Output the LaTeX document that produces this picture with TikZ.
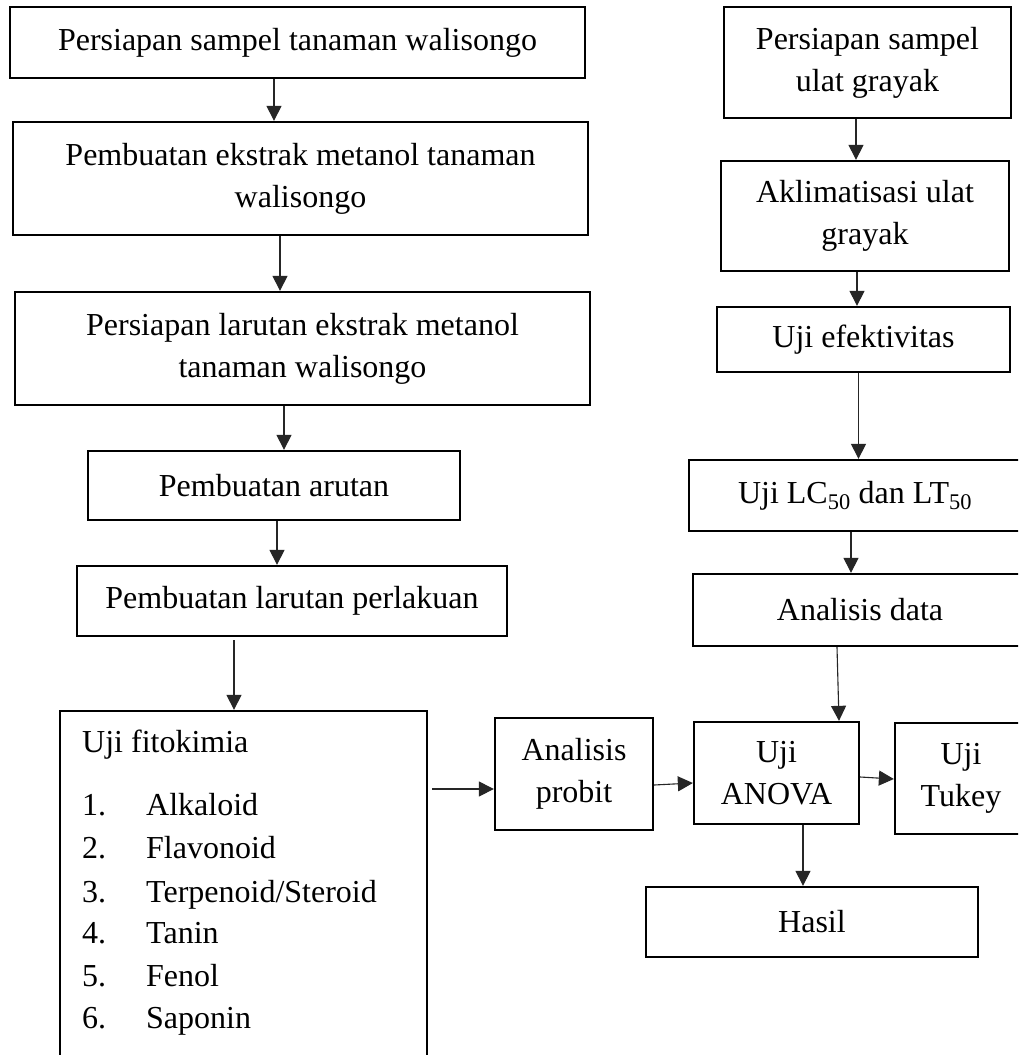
\documentclass[tikz,border=0pt]{standalone}
\usepackage{fontspec}
\setmainfont{Liberation Serif}
\usetikzlibrary{arrows.meta}
\begin{document}
\begin{tikzpicture}[x=1pt,y=-1pt,
  box/.style={draw=black, line width=2.3pt, inner sep=0pt, align=center,
    font=\fontsize{32}{42}\selectfont},
  arr/.style={draw=black!85, line width=1.1pt, -{Triangle[length=15pt,width=15pt]}},
  txt/.style={inner sep=0pt, anchor=base west, font=\fontsize{32}{42}\selectfont}]
\useasboundingbox (0,0) rectangle (1018,1055);
\fill[white] (0,0) rectangle (1018,1055);
\clip (0,0) rectangle (1018,1055);

% left column
\node[box, minimum width=575pt, minimum height=71pt] (b1) at (297.5,42.5) {Persiapan sampel tanaman walisongo};
\node[box, minimum width=575pt, minimum height=113pt] (b2) at (300.5,178.5) {Pembuatan ekstrak metanol tanaman\\walisongo};
\node[box, minimum width=575pt, minimum height=113pt] (b3) at (302.5,348.5) {Persiapan larutan ekstrak metanol\\tanaman walisongo};
\node[box, minimum width=372pt, minimum height=69pt] (b4) at (274,485.5) {Pembuatan arutan};
\node[box, minimum width=430pt, minimum height=70pt] (b5) at (292,601) {Pembuatan larutan perlakuan};
\node[box, minimum width=367pt, minimum height=359pt] (b6) at (243.5,890.5) {};
\node[txt] (f0) at (82,752) {Uji fitokimia};
\node[txt] (n1) at (82,815) {1.};  \node[txt] (t1) at (146,815) {Alkaloid};
\node[txt] (n2) at (82,858) {2.};  \node[txt] (t2) at (146,858) {Flavonoid};
\node[txt] (n3) at (82,902) {3.};  \node[txt] (t3) at (146,902) {Terpenoid/Steroid};
\node[txt] (n4) at (82,943) {4.};  \node[txt] (t4) at (146,943) {Tanin};
\node[txt] (n5) at (82,986) {5.};  \node[txt] (t5) at (146,986) {Fenol};
\node[txt] (n6) at (82,1028) {6.}; \node[txt] (t6) at (146,1028) {Saponin};

% right column
\node[box, minimum width=287pt, minimum height=111pt] (r1) at (867.5,62.5) {Persiapan sampel\\ulat grayak};
\node[box, minimum width=288pt, minimum height=110pt] (r2) at (865,216) {Aklimatisasi ulat\\grayak};
\node[box, minimum width=293pt, minimum height=65pt] (r3) at (863.5,339.5) {Uji efektivitas};
\node[box, minimum width=332pt, minimum height=71pt] (r4) at (855,495.5) {Uji LC\textsubscript{50} dan LT\textsubscript{50}};
\node[box, minimum width=334pt, minimum height=72pt] (r5) at (860,610) {Analisis data};

% bottom row
\node[box, minimum width=158pt, minimum height=112pt] (p) at (574,774) {Analisis\\probit};
\node[box, minimum width=165pt, minimum height=102pt] (a) at (776.5,773) {Uji\\ANOVA};
\node[box, minimum width=132pt, minimum height=111pt] (t) at (961,778.5) {Uji\\Tukey};
\node[box, minimum width=332pt, minimum height=70pt] (h) at (812,922) {Hasil};

% connector positions
\coordinate (xa1) at (274,0);
\coordinate (xa2) at (280,0);
\coordinate (xa3) at (284,0);
\coordinate (xa4) at (277,0);
\coordinate (xa5) at (234,0);
\coordinate (xr1) at (856,0);
\coordinate (xr2) at (857,0);
\coordinate (xr3) at (858.5,0);
\coordinate (xr4) at (851,0);
\coordinate (xr5a) at (837,0);
\coordinate (xr5b) at (839,0);
\coordinate (xh) at (803,0);
\coordinate (h1s) at (432,789);
\coordinate (y2a) at (0,785);
\coordinate (y2b) at (0,783);
\coordinate (y3a) at (0,777);
\coordinate (y3b) at (0,779);
\coordinate (a5s) at (234,640);

\draw[arr] (b1.south -| xa1) -- (b2.north -| xa1);
\draw[arr] (b2.south -| xa2) -- (b3.north -| xa2);
\draw[arr] (b3.south -| xa3) -- (b4.north -| xa3);
\draw[arr] (b4.south -| xa4) -- (b5.north -| xa4);
\draw[arr] (a5s) -- (b6.north -| xa5);

\draw[arr] (r1.south -| xr1) -- (r2.north -| xr1);
\draw[arr] (r2.south -| xr2) -- (r3.north -| xr2);
\draw[arr] (r3.south -| xr3) -- (r4.north -| xr3);
\draw[arr] (r4.south -| xr4) -- (r5.north -| xr4);
\draw[arr] (r5.south -| xr5a) -- (a.north -| xr5b);

\draw[arr] (h1s) -- (p.west |- h1s);
\draw[arr] (p.east |- y2a) -- (a.west |- y2b);
\draw[arr] (a.east |- y3a) -- (t.west |- y3b);
\draw[arr] (a.south -| xh) -- (h.north -| xh);
\end{tikzpicture}
\end{document}
